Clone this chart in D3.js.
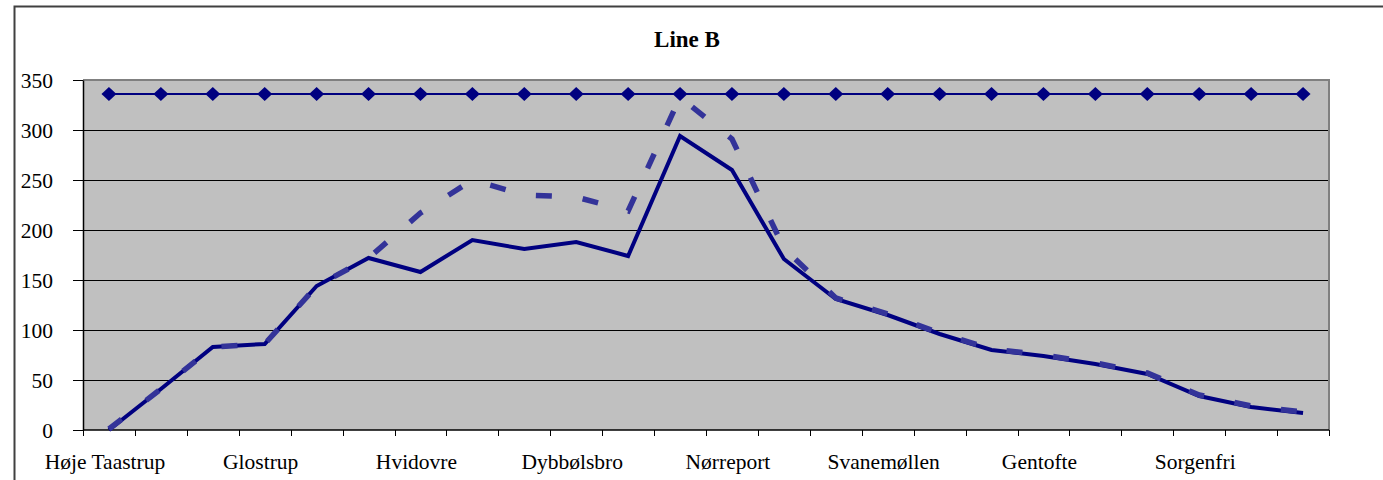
<!DOCTYPE html>
<html>
<head>
<meta charset="utf-8">
<script src="https://cdn.jsdelivr.net/npm/d3@7"></script>
<style>
  html, body { margin: 0; padding: 0; background: #ffffff; }
  svg { display: block; }
  text { font-family: "Liberation Serif", "Times New Roman", serif; fill: #000; }
</style>
</head>
<body>
<svg id="chart" width="1383" height="480"></svg>
<script>
// Stations on Line B, in running order
const stations = [
  "Høje Taastrup", "Taastrup", "Albertslund", "Glostrup", "Brøndbyøster", "Rødovre",
  "Hvidovre", "Valby", "Enghave", "Dybbølsbro", "København H", "Vesterport",
  "Nørreport", "Østerport", "Nordhavn", "Svanemøllen", "Hellerup", "Bernstorffsvej",
  "Gentofte", "Jægersborg", "Lyngby", "Sorgenfri", "Virum", "Holte"
];

// Passenger load between stations (solid line)
const loadSolid = [0, 41, 83, 86, 144, 172, 158, 190, 181, 188, 174, 294,
                   260, 171, 131, 115, 96, 80, 74, 66, 56, 34, 23, 17];

// Passenger load, second series (dashed line)
const loadDashed = [1, 41, 83, 86, 144, 172, 217, 250, 235, 233, 219, 333,
                    291, 182, 132, 116, 97, 81, 75, 67, 57, 35, 24, 18];

// Seat capacity (constant line with diamond markers)
const capacity = [336, 336, 336, 336, 336, 336, 336, 336, 336, 336, 336, 336,
                  336, 336, 336, 336, 336, 336, 336, 336, 336, 336, 336, 336];

const yTicks = [0, 50, 100, 150, 200, 250, 300, 350];
const labelEvery = 3;
const title = "Line B";

const svg = d3.select("#chart");
const W = 1383, H = 480;
const plot = { left: 83, right: 1329, top: 80, bottom: 430 };
const serif = "'Liberation Serif', 'Times New Roman', serif";

// Outer chart frame (left and top edges are visible)
svg.append("path")
  .attr("d", `M14.5,${H} L14.5,6.5 L${W},6.5`)
  .attr("fill", "none")
  .attr("stroke", "#404040")
  .attr("stroke-width", 2);

const x = d3.scaleBand().domain(stations).range([plot.left, plot.right]).padding(0);
const y = d3.scaleLinear().domain([0, 350]).range([plot.bottom, plot.top]);
const cx = d => x(d) + x.bandwidth() / 2;

// Plot background
svg.append("rect")
  .attr("x", plot.left).attr("y", plot.top)
  .attr("width", plot.right - plot.left).attr("height", plot.bottom - plot.top)
  .attr("fill", "#c0c0c0");

// Horizontal gridlines
svg.append("g")
  .selectAll("line")
  .data(yTicks.filter(v => v > 0 && v < 350))
  .join("line")
  .attr("x1", plot.left).attr("x2", plot.right)
  .attr("y1", d => Math.round(y(d)) + 0.5).attr("y2", d => Math.round(y(d)) + 0.5)
  .attr("stroke", "#000").attr("stroke-width", 1);

// Plot border (top and right)
svg.append("path")
  .attr("d", `M${plot.left},${plot.top} L${plot.right},${plot.top} L${plot.right},${plot.bottom}`)
  .attr("fill", "none").attr("stroke", "#808080").attr("stroke-width", 2);

// Y axis
const yAxis = d3.axisLeft(y).tickValues(yTicks).tickSize(10).tickPadding(20).tickSizeOuter(0);
const gy = svg.append("g").attr("transform", `translate(${plot.left},0)`).call(yAxis);
gy.attr("font-family", serif);
gy.select(".domain").attr("stroke", "#000").attr("stroke-width", 1.5);
gy.selectAll(".tick line").attr("stroke", "#000");
gy.selectAll(".tick text")
  .attr("font-size", 21.5).attr("fill", "#000").attr("dy", "0.34em");

// X axis: category labels every third station
const xAxis = d3.axisBottom(x).tickSize(0).tickPadding(24)
  .tickFormat((d, i) => i % labelEvery === 0 ? d : "");
const gx = svg.append("g").attr("transform", `translate(0,${plot.bottom})`).call(xAxis);
gx.attr("font-family", serif);
gx.select(".domain").remove();
gx.selectAll(".tick text")
  .attr("font-size", 21.5).attr("fill", "#000").attr("dx", -4);

// Axis baseline and tick marks between categories
const bounds = stations.map(s => x(s)).concat([x(stations[stations.length - 1]) + x.bandwidth()]);
svg.append("line")
  .attr("x1", plot.left).attr("x2", plot.right)
  .attr("y1", plot.bottom).attr("y2", plot.bottom)
  .attr("stroke", "#000").attr("stroke-width", 1.5);
svg.append("g").selectAll("line").data(bounds).join("line")
  .attr("x1", d => Math.round(d) + 0.5).attr("x2", d => Math.round(d) + 0.5)
  .attr("y1", plot.bottom).attr("y2", plot.bottom + 6)
  .attr("stroke", "#000").attr("stroke-width", 1);

// Series lines
const line = d3.line().x((d, i) => cx(stations[i])).y(d => y(d));

svg.append("path").datum(loadSolid)
  .attr("d", line)
  .attr("fill", "none").attr("stroke", "#000080")
  .attr("stroke-width", 4).attr("stroke-linejoin", "miter");

svg.append("path").datum(loadDashed)
  .attr("d", line)
  .attr("fill", "none").attr("stroke", "#333399")
  .attr("stroke-width", 5.5).attr("stroke-dasharray", "16,31")
  .attr("stroke-linecap", "butt");

svg.append("path").datum(capacity)
  .attr("d", line)
  .attr("fill", "none").attr("stroke", "#000080").attr("stroke-width", 2);

// Diamond markers on capacity line
svg.append("g").selectAll("path").data(capacity).join("path")
  .attr("transform", (d, i) => `translate(${cx(stations[i])},${y(d)})`)
  .attr("d", "M0,-7 L7.5,0 L0,7 L-7.5,0 Z")
  .attr("fill", "#000080");

// Title
svg.append("text")
  .attr("x", (plot.left + plot.right) / 2 - 19).attr("y", 47)
  .attr("text-anchor", "middle")
  .attr("font-family", serif)
  .attr("font-size", 23).attr("font-weight", "bold")
  .text(title);
</script>
</body>
</html>
